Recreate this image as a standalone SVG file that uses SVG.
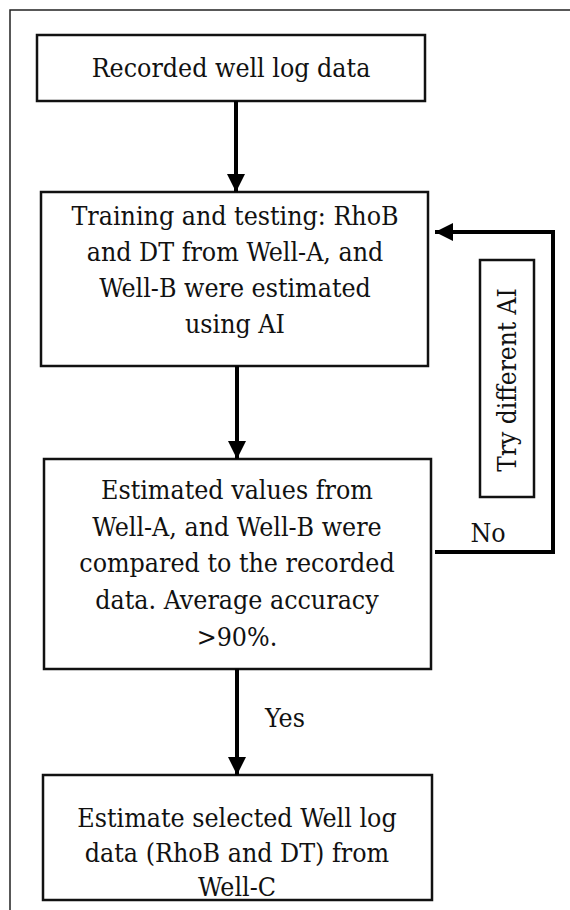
<svg xmlns="http://www.w3.org/2000/svg" width="570" height="910" viewBox="0 0 570 910">
<style>
.box{fill:#fff;stroke:#111;stroke-width:2.5}
.t{font-family:"DejaVu Serif Condensed","DejaVu Serif","Liberation Serif",serif;font-stretch:condensed;font-size:26.5px;fill:#111;text-anchor:middle}
.c{fill:none;stroke:#000;stroke-width:4}
</style>
<defs>
<marker id="ah" markerUnits="userSpaceOnUse" markerWidth="20" markerHeight="20" refX="18" refY="9" orient="auto">
<path d="M0,0 L18,9 L0,18 Z" fill="#000"/>
</marker>
</defs>
<rect width="570" height="910" fill="#fff"/>
<path d="M10,910 V10 H570" fill="none" stroke="#222" stroke-width="1.5"/>
<g id="n1">
<rect class="box" x="37" y="35" width="388" height="66"/>
<text class="t" x="231" y="77">Recorded well log data</text>
</g>
<g id="n2">
<rect class="box" x="41" y="192" width="387" height="174"/>
<text class="t" x="235" y="225">Training and testing: RhoB</text>
<text class="t" x="235" y="261">and DT from Well-A, and</text>
<text class="t" x="235" y="297">Well-B were estimated</text>
<text class="t" x="235" y="333">using AI</text>
</g>
<g id="n3">
<rect class="box" x="44" y="459" width="387" height="210"/>
<text class="t" x="237" y="499">Estimated values from</text>
<text class="t" x="237" y="536">Well-A, and Well-B were</text>
<text class="t" x="237" y="572">compared to the recorded</text>
<text class="t" x="237" y="609">data. Average accuracy</text>
<text class="t" x="237" y="646">&gt;90%.</text>
</g>
<g id="n4">
<rect class="box" x="43" y="775" width="389" height="125"/>
<text class="t" x="237" y="827">Estimate selected Well log</text>
<text class="t" x="237" y="862">data (RhoB and DT) from</text>
<text class="t" x="237" y="896">Well-C</text>
</g>
<g id="n5">
<rect class="box" x="480" y="260" width="54" height="237"/>
<text class="t" style="font-size:26px" transform="translate(516,380) rotate(-90)" x="0" y="0">Try different AI</text>
</g>
<g id="connectors">
<path class="c" d="M236,101 V192" marker-end="url(#ah)"/>
<path class="c" d="M237,366 V459" marker-end="url(#ah)"/>
<path class="c" d="M237,669 V775" marker-end="url(#ah)"/>
<path class="c" d="M435,552 H553 V232 H435" marker-end="url(#ah)" stroke-linejoin="miter"/>
<text class="t" x="488" y="542">No</text>
<text class="t" x="285" y="727">Yes</text>
</g>
</svg>
